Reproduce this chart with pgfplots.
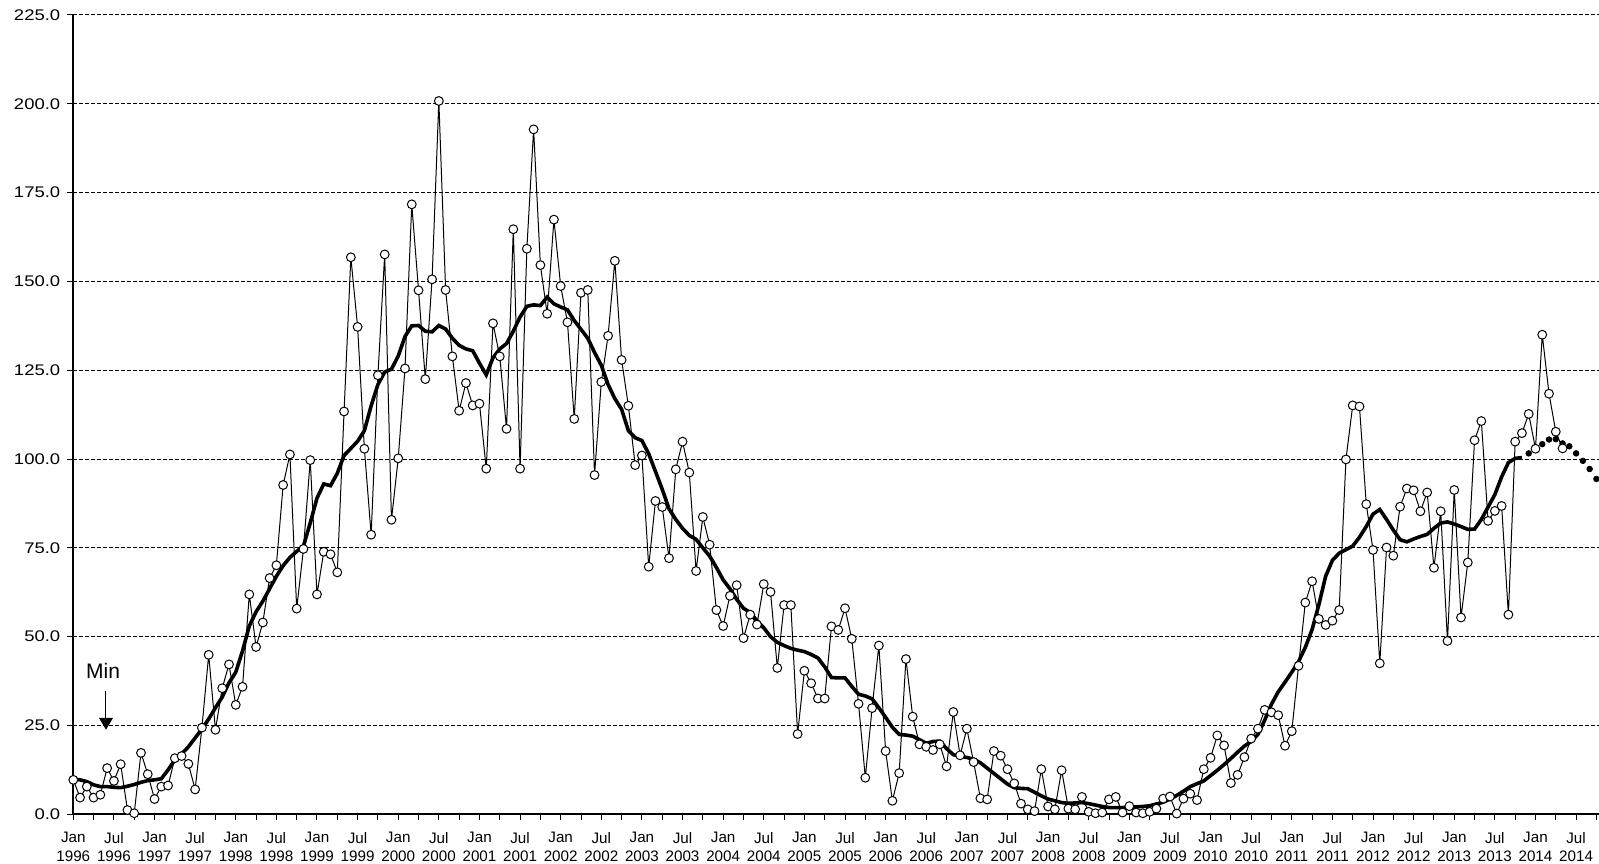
\documentclass[border=0pt]{standalone}
\usepackage{fontspec}
\setmainfont{Liberation Sans}
\newfontfamily\ylabfont[FakeStretch=1.2]{Liberation Sans}
\usepackage{pgfplots}
\pgfplotsset{compat=1.18}
\usetikzlibrary{arrows.meta}
\begin{document}
\begin{tikzpicture}
\begin{axis}[
  scale only axis, width=762.9pt, height=399.65pt,
  xmin=0, xmax=225.4, ymin=0, ymax=225,
  axis x line=bottom, axis y line=left,
  axis line style={-, line width=1pt, black},
  ytick={0,25,...,225},
  ymajorgrids, grid style={black, line width=0.5pt, dash pattern=on 2pt off 1pt},
  xtick={0,6,...,222}, minor xtick={3,9,...,225},
  xticklabels={Jan\\1996,Jul\\1996,Jan\\1997,Jul\\1997,Jan\\1998,Jul\\1998,Jan\\1999,Jul\\1999,Jan\\2000,Jul\\2000,Jan\\2001,Jul\\2001,Jan\\2002,Jul\\2002,Jan\\2003,Jul\\2003,Jan\\2004,Jul\\2004,Jan\\2005,Jul\\2005,Jan\\2006,Jul\\2006,Jan\\2007,Jul\\2007,Jan\\2008,Jul\\2008,Jan\\2009,Jul\\2009,Jan\\2010,Jul\\2010,Jan\\2011,Jul\\2011,Jan\\2012,Jul\\2012,Jan\\2013,Jul\\2013,Jan\\2014,Jul\\2014},
  xticklabel style={align=center, yshift=-2.5pt, font=\fontsize{7.6pt}{9.3pt}\selectfont},
  yticklabel style={font=\ylabfont\fontsize{7.7pt}{9pt}\selectfont,
    /pgf/number format/fixed, /pgf/number format/fixed zerofill,
    /pgf/number format/precision=1, /pgf/number format/assume math mode=true},
  tick align=outside, major tick length=3pt, minor tick length=3pt,
  tick style={black, line width=0.5pt},
]
\coordinate (O) at (axis cs:0,0);
% smoothed
\addplot[black, line width=1.8pt, no marks] coordinates {
(0,9.9)(1,9.7)(2,9.2)(3,8.3)(4,7.8)(5,7.8)(6,7.6)(7,7.5)(8,7.9)(9,8.4)(10,9.0)(11,9.5)
(12,9.7)(13,10.0)(14,12.5)(15,15.3)(16,17.0)(17,19.0)(18,21.5)(19,24.0)(20,26.8)(21,30.0)(22,33.0)(23,37.0)
(24,40.0)(25,46.0)(26,53.0)(27,57.0)(28,60.0)(29,63.5)(30,67.0)(31,70.0)(32,72.3)(33,74.0)(34,75.5)(35,82.0)
(36,89.0)(37,93.0)(38,92.5)(39,96.0)(40,101.0)(41,103.0)(42,105.0)(43,108.0)(44,115.0)(45,121.0)(46,124.5)(47,125.3)
(48,129.0)(49,134.5)(50,137.5)(51,137.6)(52,136.0)(53,135.8)(54,137.6)(55,136.6)(56,134.0)(57,132.0)(58,131.0)(59,130.5)
(60,127.0)(61,123.7)(62,128.5)(63,131.0)(64,132.5)(65,136.0)(66,140.0)(67,143.0)(68,143.4)(69,143.2)(70,145.6)(71,143.7)
(72,142.8)(73,142.0)(74,139.0)(75,136.5)(76,134.0)(77,130.0)(78,126.4)(79,121.0)(80,117.0)(81,114.0)(82,108.0)(83,106.0)
(84,105.2)(85,101.5)(86,96.5)(87,91.5)(88,86.0)(89,83.0)(90,80.5)(91,78.5)(92,77.4)(93,75.0)(94,72.7)(95,69.5)
(96,66.0)(97,63.5)(98,60.5)(99,58.0)(100,56.8)(101,54.5)(102,52.5)(103,50.0)(104,48.4)(105,47.5)(106,46.7)(107,46.2)
(108,45.8)(109,45.0)(110,44.0)(111,41.5)(112,38.5)(113,38.4)(114,38.4)(115,36.0)(116,33.8)(117,33.3)(118,32.5)(119,30.0)
(120,27.3)(121,24.5)(122,22.5)(123,22.3)(124,22.0)(125,21.0)(126,20.0)(127,20.5)(128,20.6)(129,18.5)(130,16.8)(131,16.3)
(132,16.0)(133,15.5)(134,14.5)(135,13.0)(136,11.5)(137,10.0)(138,8.5)(139,7.5)(140,7.3)(141,7.2)(142,6.2)(143,5.2)
(144,4.3)(145,3.8)(146,3.3)(147,3.1)(148,3.2)(149,3.3)(150,3.0)(151,2.6)(152,2.2)(153,1.9)(154,1.9)(155,1.9)
(156,2.0)(157,2.1)(158,2.2)(159,2.4)(160,2.9)(161,3.4)(162,4.3)(163,5.3)(164,6.5)(165,7.8)(166,8.6)(167,9.4)
(168,10.9)(169,12.4)(170,14.0)(171,15.7)(172,17.5)(173,19.2)(174,20.5)(175,22.5)(176,26.5)(177,31.0)(178,34.5)(179,37.2)
(180,40.0)(181,43.0)(182,47.0)(183,52.0)(184,59.0)(185,67.0)(186,71.5)(187,73.5)(188,74.5)(189,75.5)(190,78.0)(191,81.0)
(192,84.5)(193,85.8)(194,83.0)(195,80.0)(196,77.3)(197,76.7)(198,77.5)(199,78.2)(200,78.8)(201,80.5)(202,82.0)(203,82.3)
(204,81.7)(205,81.0)(206,80.2)(207,80.3)(208,83.0)(209,86.5)(210,90.0)(211,95.0)(212,99.0)(213,100.2)(214,100.4)
};
% predicted
\addplot[black, only marks, mark=*, mark size=1.4pt] coordinates {
(215,101.6)(216,103.0)(217,104.2)(218,105.5)(219,105.6)(220,104.4)(221,103.6)(222,101.6)(223,99.5)(224,97.2)(225,94.4)
};
% observed monthly
\addplot[black, line width=0.5pt, mark=*, mark size=2.2pt, mark options={fill=white, draw=black, line width=0.5pt}] coordinates {
(0,9.7)(1,4.7)(2,7.8)(3,4.7)(4,5.5)(5,13.0)(6,9.4)(7,14.1)(8,1.2)(9,0.3)(10,17.3)(11,11.3)
(12,4.3)(13,7.8)(14,8.1)(15,15.8)(16,16.4)(17,14.2)(18,7.0)(19,24.4)(20,44.9)(21,23.8)(22,35.5)(23,42.2)
(24,30.8)(25,35.9)(26,61.9)(27,47.1)(28,54.0)(29,66.5)(30,70.1)(31,92.7)(32,101.3)(33,57.9)(34,74.7)(35,99.7)
(36,61.9)(37,73.9)(38,73.2)(39,68.1)(40,113.4)(41,156.8)(42,137.2)(43,102.9)(44,78.7)(45,123.6)(46,157.6)(47,82.9)
(48,100.2)(49,125.5)(50,171.7)(51,147.5)(52,122.5)(53,150.6)(54,200.8)(55,147.6)(56,128.9)(57,113.6)(58,121.4)(59,115.1)
(60,115.6)(61,97.3)(62,138.2)(63,128.9)(64,108.5)(65,164.7)(66,97.3)(67,159.2)(68,192.8)(69,154.6)(70,140.9)(71,167.4)
(72,148.7)(73,138.5)(74,111.3)(75,146.8)(76,147.6)(77,95.5)(78,121.7)(79,134.7)(80,155.8)(81,127.9)(82,115.0)(83,98.3)
(84,101.0)(85,69.7)(86,88.2)(87,86.5)(88,72.1)(89,97.1)(90,104.9)(91,96.2)(92,68.5)(93,83.7)(94,75.9)(95,57.5)
(96,53.0)(97,61.5)(98,64.5)(99,49.6)(100,56.2)(101,53.4)(102,64.8)(103,62.6)(104,41.2)(105,58.9)(106,58.9)(107,22.6)
(108,40.4)(109,36.9)(110,32.6)(111,32.6)(112,52.9)(113,51.9)(114,58.0)(115,49.4)(116,31.1)(117,10.3)(118,29.9)(119,47.5)
(120,17.8)(121,3.8)(122,11.6)(123,43.7)(124,27.5)(125,19.7)(126,19.0)(127,18.1)(128,19.7)(129,13.5)(130,28.8)(131,16.6)
(132,24.1)(133,14.7)(134,4.5)(135,4.2)(136,17.8)(137,16.5)(138,12.7)(139,8.7)(140,3.0)(141,1.4)(142,0.9)(143,12.7)
(144,2.2)(145,1.4)(146,12.4)(147,1.6)(148,1.4)(149,4.9)(150,0.7)(151,0.3)(152,0.5)(153,4.2)(154,4.9)(155,0.5)
(156,2.3)(157,0.5)(158,0.3)(159,0.7)(160,1.6)(161,4.4)(162,5.0)(163,0.2)(164,4.4)(165,5.8)(166,4.0)(167,12.7)
(168,15.9)(169,22.2)(170,19.4)(171,8.8)(172,11.1)(173,16.1)(174,21.3)(175,24.1)(176,29.4)(177,28.7)(178,27.9)(179,19.3)
(180,23.4)(181,41.8)(182,59.6)(183,65.6)(184,55.0)(185,53.3)(186,54.5)(187,57.5)(188,99.9)(189,115.1)(190,114.8)(191,87.3)
(192,74.4)(193,42.5)(194,75.1)(195,72.8)(196,86.6)(197,91.7)(198,91.2)(199,85.3)(200,90.6)(201,69.4)(202,85.3)(203,48.8)
(204,91.3)(205,55.4)(206,70.9)(207,105.3)(208,110.7)(209,82.6)(210,85.4)(211,86.8)(212,56.2)(213,104.9)(214,107.3)(215,112.7)
(216,102.9)(217,135.0)(218,118.4)(219,107.7)(220,103.0)
};
\node[font=\fontsize{10.5pt}{12pt}\selectfont, anchor=base] at (axis cs:4.4,38.3) {Min};
\draw[black, line width=0.5pt, -{Triangle[width=7pt,length=6pt]}] (axis cs:4.83,34.8) -- (axis cs:4.83,23.8);
\end{axis}
\pgfresetboundingbox
\path[use as bounding box] ([shift={(-36.65pt,-24.35pt)}]O) rectangle ++(799.5pt,431.5pt);
\end{tikzpicture}
\end{document}
